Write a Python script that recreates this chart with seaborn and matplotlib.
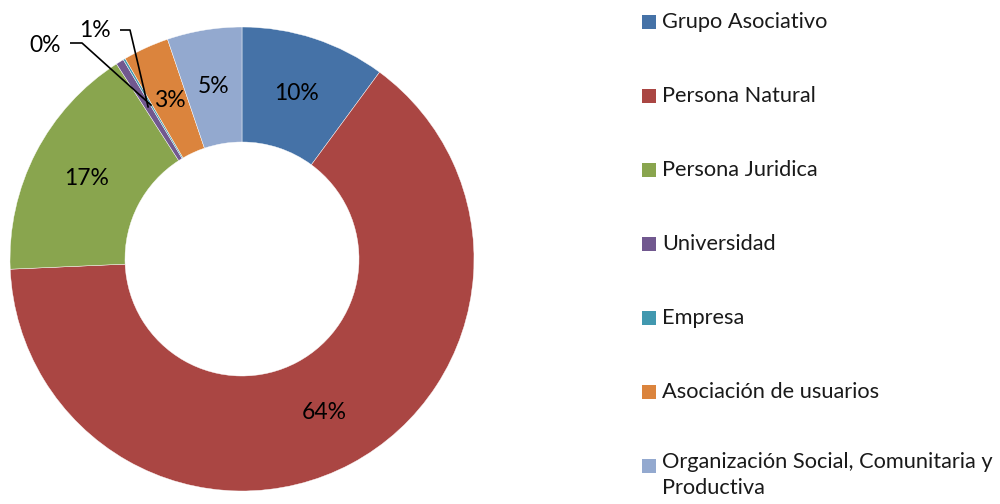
import numpy as np
import matplotlib
matplotlib.use("Agg")
import matplotlib.pyplot as plt
import seaborn as sns
from matplotlib.patches import Rectangle

categories = ["Grupo Asociativo", "Persona Natural", "Persona Juridica", "Universidad",
              "Empresa", "Asociación de usuarios", "Organización Social, Comunitaria y Productiva"]
legend_labels = ["Grupo Asociativo", "Persona Natural", "Persona Juridica", "Universidad",
                 "Empresa", "Asociación de usuarios", "Organización Social, Comunitaria y\nProductiva"]
values = [10.1, 64.2, 16.6, 0.55, 0.15, 3.2, 5.2]
colors = ["#4572A7", "#AA4643", "#89A54E", "#71588F", "#4198AF", "#DB843D", "#93A9CF"]

sns.set_style("white")
plt.rcParams['font.family'] = ['Lato', 'DejaVu Sans']
palette = sns.color_palette(colors)

W, H = 1000, 504
fig = plt.figure(figsize=(10, 5.04), dpi=100)
cx, cy, R = 242, 259, 232  # pixel center (from top) and radius
half = 240
ax = fig.add_axes([(cx - half) / W, (H - cy - half) / H, 2 * half / W, 2 * half / H])

ring_w = (R - 117) / R
wedges, _ = ax.pie(values, colors=palette, startangle=90, counterclock=False, radius=1,
                   wedgeprops=dict(width=ring_w, edgecolor='white', linewidth=0.3))
lim = half / R
ax.set_xlim(-lim, lim)
ax.set_ylim(-lim, lim)
ax.set_aspect('equal')
ax.axis('off')

fs = 16.5
lfs = 15.7
total = sum(values)
mid_r = 1 - ring_w / 2
cum = 0
mids = []
for v in values:
    a = 90 - (cum + v / 2) / total * 360
    mids.append(np.deg2rad(a))
    cum += v

def px2d(x, y):
    return (x - cx) / R, (cy - y) / R

for i, v in enumerate(values):
    pct = v / total * 100
    if pct >= 1:
        ax.text(mid_r * np.cos(mids[i]), mid_r * np.sin(mids[i]), f"{pct:.0f}%",
                ha='center', va='center', fontsize=fs, color='black')

# small slices with leader lines
lead = {3: ((95, 30), (120, 30), (130, 30)), 4: ((45, 45), (70, 43), (82, 43))}
er = 178 / R
for i, ((tx, ty), p0, p1) in lead.items():
    pct = values[i] / total * 100
    x, y = px2d(tx, ty)
    ax.text(x, y, f"{pct:.0f}%", ha='center', va='center', fontsize=fs, color='black')
    xs = [px2d(*p0)[0], px2d(*p1)[0], er * np.cos(mids[i])]
    ys = [px2d(*p0)[1], px2d(*p1)[1], er * np.sin(mids[i])]
    ax.plot(xs, ys, color='black', lw=1.2, solid_capstyle='butt')

# legend
for i, lab in enumerate(legend_labels):
    yc = 22 + 74 * i
    fig.patches.append(Rectangle((642 / W, (H - yc - 7) / H), 14 / W, 14 / H,
                                 transform=fig.transFigure, facecolor=palette[i],
                                 edgecolor='none'))
    if "\n" in lab:
        fig.text(662 / W, (H - yc + 14) / H, lab, ha='left', va='top', fontsize=lfs,
                 color='#1a1a1a', linespacing=1.35)
    else:
        fig.text(662 / W, (H - yc) / H, lab, ha='left', va='center', fontsize=lfs,
                 color='#1a1a1a')

fig.savefig("out.png", dpi=100, facecolor='white')
